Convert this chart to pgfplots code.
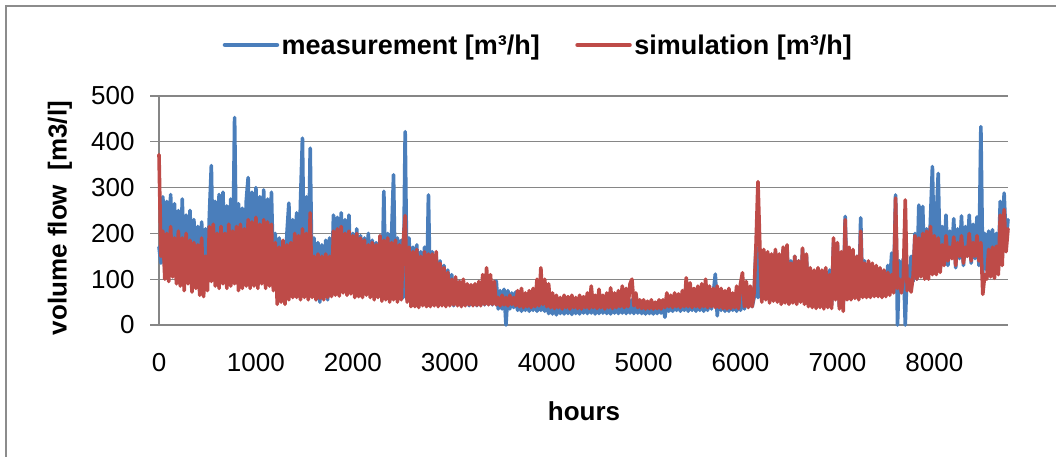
\documentclass[border=0pt]{standalone}
\usepackage{fontspec}
\setmainfont{Liberation Sans}
\usepackage{pgfplots}
\usepackage{pgfplotstable}
\pgfplotsset{compat=1.18}
\definecolor{mblue}{RGB}{74,126,187}
\definecolor{sred}{RGB}{190,75,72}
\definecolor{gridgray}{RGB}{134,134,134}
\definecolor{framegray}{RGB}{140,140,140}

\pgfplotstableread[row sep=\\]{
h m s\\
0 170 372\\ 20 135 150\\ 40 280 205\\ 60 120 100\\ 80 270 200\\ 100 130 95\\ 120 285 215\\ 140 115 105\\ 160 265 190\\ 180 125 90\\
200 250 205\\ 220 110 85\\ 240 275 190\\ 260 105 75\\ 280 240 200\\ 300 120 90\\ 320 250 185\\ 340 100 72\\ 360 230 180\\ 380 110 80\\
400 215 175\\ 420 95 65\\ 440 225 190\\ 460 100 62\\ 480 210 150\\ 500 110 75\\ 520 240 215\\ 540 348 95\\ 560 115 220\\ 580 270 85\\
600 120 200\\ 620 285 80\\ 640 125 215\\ 660 290 90\\ 680 110 200\\ 700 260 80\\ 720 120 220\\ 740 275 85\\ 760 115 205\\ 780 453 90\\
800 120 215\\ 820 265 75\\ 840 110 220\\ 860 255 80\\ 880 115 210\\ 900 270 85\\ 920 322 230\\ 940 110 80\\ 960 290 225\\ 980 115 85\\
1000 300 235\\ 1020 105 80\\ 1040 280 220\\ 1060 115 90\\ 1080 295 230\\ 1100 110 80\\ 1120 275 225\\ 1140 120 85\\ 1160 290 220\\ 1180 115 75\\
1200 200 180\\ 1220 75 45\\ 1240 190 170\\ 1260 70 50\\ 1280 175 185\\ 1300 80 45\\ 1320 200 175\\ 1340 266 55\\ 1360 85 180\\ 1380 230 60\\
1400 95 200\\ 1420 245 60\\ 1440 90 195\\ 1460 270 55\\ 1480 408 210\\ 1500 85 60\\ 1520 280 200\\ 1540 90 55\\ 1560 386 245\\ 1580 85 60\\
1600 190 150\\ 1620 55 55\\ 1640 180 155\\ 1660 50 58\\ 1680 175 150\\ 1700 60 55\\ 1720 185 155\\ 1740 55 60\\ 1760 190 150\\ 1780 70 62\\
1800 240 205\\ 1820 80 65\\ 1840 235 210\\ 1860 85 63\\ 1880 245 215\\ 1900 80 70\\ 1920 230 200\\ 1940 90 65\\ 1960 240 205\\ 1980 85 68\\
2000 200 195\\ 2020 70 60\\ 2040 210 200\\ 2060 75 62\\ 2080 195 190\\ 2100 70 60\\ 2120 190 185\\ 2140 80 65\\ 2160 200 175\\ 2180 70 60\\
2200 185 180\\ 2220 65 55\\ 2240 180 175\\ 2260 70 60\\ 2280 190 195\\ 2300 65 52\\ 2320 292 185\\ 2340 60 55\\ 2360 200 190\\ 2380 65 50\\
2400 195 180\\ 2420 328 55\\ 2440 60 185\\ 2460 190 50\\ 2480 65 175\\ 2500 185 55\\ 2520 60 180\\ 2540 422 239\\ 2560 55 50\\ 2580 190 170\\
2600 50 40\\ 2620 170 160\\ 2640 45 40\\ 2660 175 165\\ 2680 50 38\\ 2700 160 150\\ 2720 48 42\\ 2740 170 160\\ 2760 45 40\\ 2780 284 155\\
2800 50 40\\ 2820 160 155\\ 2840 45 42\\ 2860 150 160\\ 2880 50 40\\ 2900 140 135\\ 2920 45 42\\ 2940 130 125\\ 2960 48 40\\ 2980 120 115\\
3000 45 42\\ 3020 110 100\\ 3040 42 44\\ 3060 100 105\\ 3080 45 42\\ 3100 95 95\\ 3120 42 40\\ 3140 90 100\\ 3160 44 42\\ 3180 85 90\\
3200 42 44\\ 3220 85 88\\ 3240 44 42\\ 3260 80 90\\ 3280 42 43\\ 3300 85 95\\ 3320 45 42\\ 3340 90 110\\ 3360 44 45\\ 3380 95 125\\
3400 45 44\\ 3420 85 110\\ 3440 44 45\\ 3460 80 95\\ 3480 96 44\\ 3500 35 60\\ 3520 75 42\\ 3540 35 65\\ 3560 78 44\\ 3580 0 60\\
3600 75 42\\ 3620 35 65\\ 3640 70 45\\ 3660 38 60\\ 3680 72 42\\ 3700 32 75\\ 3720 60 40\\ 3740 30 80\\ 3760 55 38\\ 3780 32 70\\
3800 58 40\\ 3820 30 75\\ 3840 55 38\\ 3860 32 80\\ 3880 60 40\\ 3900 30 100\\ 3920 55 42\\ 3940 32 125\\ 3960 50 45\\ 3980 30 100\\
4000 55 40\\ 4020 25 90\\ 4040 52 38\\ 4060 24 70\\ 4080 55 36\\ 4100 22 65\\ 4120 50 38\\ 4140 25 60\\ 4160 55 35\\ 4180 24 65\\
4200 50 38\\ 4220 25 62\\ 4240 55 35\\ 4260 23 65\\ 4280 52 38\\ 4300 25 60\\ 4320 55 36\\ 4340 24 65\\ 4360 50 35\\ 4380 26 62\\
4400 55 38\\ 4420 25 70\\ 4440 50 36\\ 4460 26 85\\ 4480 55 38\\ 4500 24 65\\ 4520 52 36\\ 4540 25 78\\ 4560 55 38\\ 4580 26 65\\
4600 50 35\\ 4620 25 70\\ 4640 55 38\\ 4660 24 81\\ 4680 52 36\\ 4700 26 70\\ 4720 55 38\\ 4740 25 75\\ 4760 50 40\\ 4780 26 85\\
4800 55 38\\ 4820 25 80\\ 4840 52 40\\ 4860 26 90\\ 4880 55 100\\ 4900 25 42\\ 4920 50 70\\ 4940 26 38\\ 4960 45 55\\ 4980 25 36\\
5000 45 55\\ 5020 24 35\\ 5040 42 52\\ 5060 25 36\\ 5080 45 55\\ 5100 24 35\\ 5120 40 50\\ 5140 25 36\\ 5160 45 55\\ 5180 26 35\\
5200 45 55\\ 5220 17 38\\ 5240 50 70\\ 5260 30 40\\ 5280 55 65\\ 5300 30 38\\ 5320 50 70\\ 5340 32 40\\ 5360 55 68\\ 5380 30 38\\
5400 55 75\\ 5420 32 40\\ 5440 60 103\\ 5460 30 40\\ 5480 58 92\\ 5500 32 38\\ 5520 65 80\\ 5540 30 40\\ 5560 60 85\\ 5580 32 38\\
5600 65 90\\ 5620 30 40\\ 5640 62 100\\ 5660 32 38\\ 5680 65 85\\ 5700 35 40\\ 5720 70 80\\ 5740 111 38\\ 5760 20 85\\ 5780 68 38\\
5800 32 80\\ 5820 65 36\\ 5840 30 75\\ 5860 62 35\\ 5880 30 80\\ 5900 65 36\\ 5920 32 70\\ 5940 60 38\\ 5960 30 85\\ 5980 65 36\\
6000 32 90\\ 6020 70 114\\ 6040 35 40\\ 6060 68 95\\ 6080 40 38\\ 6100 65 85\\ 6120 40 40\\ 6140 60 70\\ 6160 170 175\\ 6180 60 313\\
6200 165 170\\ 6220 55 50\\ 6240 160 165\\ 6260 60 55\\ 6280 155 160\\ 6300 55 48\\ 6320 150 155\\ 6340 58 52\\ 6360 160 165\\ 6380 55 50\\
6400 150 155\\ 6420 50 45\\ 6440 165 170\\ 6460 55 48\\ 6480 170 175\\ 6500 50 45\\ 6520 140 135\\ 6540 55 48\\ 6560 150 150\\ 6580 50 45\\
6600 140 140\\ 6620 55 50\\ 6640 165 168\\ 6660 50 45\\ 6680 150 155\\ 6700 45 40\\ 6720 120 125\\ 6740 45 38\\ 6760 115 120\\ 6780 42 36\\
6800 120 125\\ 6820 45 38\\ 6840 110 120\\ 6860 42 35\\ 6880 115 125\\ 6900 45 38\\ 6920 120 110\\ 6940 45 36\\ 6960 180 190\\ 6980 60 55\\
7000 175 180\\ 7020 40 35\\ 7040 150 160\\ 7060 45 30\\ 7080 237 230\\ 7100 60 55\\ 7120 165 170\\ 7140 60 55\\ 7160 160 165\\ 7180 65 58\\
7200 150 150\\ 7220 60 55\\ 7240 234 205\\ 7260 65 60\\ 7280 140 135\\ 7300 65 60\\ 7320 130 140\\ 7340 62 60\\ 7360 120 135\\ 7380 65 62\\
7400 125 130\\ 7420 65 62\\ 7440 120 125\\ 7460 66 60\\ 7480 115 120\\ 7500 65 62\\ 7520 130 115\\ 7540 90 65\\ 7560 157 110\\ 7580 80 70\\
7600 284 277\\ 7620 0 80\\ 7640 140 100\\ 7660 85 70\\ 7680 145 105\\ 7700 0 273\\ 7720 130 75\\ 7740 90 100\\ 7760 150 72\\ 7780 95 105\\
7800 200 195\\ 7820 100 100\\ 7840 262 190\\ 7860 110 105\\ 7880 259 200\\ 7900 105 100\\ 7920 210 205\\ 7940 110 100\\ 7960 230 215\\ 7980 346 110\\
8000 120 195\\ 8020 230 110\\ 8040 331 190\\ 8060 125 115\\ 8080 215 175\\ 8100 140 130\\ 8120 240 195\\ 8140 130 140\\ 8160 205 170\\ 8180 150 145\\
8200 232 192\\ 8220 125 130\\ 8240 210 180\\ 8260 145 150\\ 8280 238 195\\ 8300 130 135\\ 8320 215 170\\ 8340 150 150\\ 8360 240 200\\ 8380 135 140\\
8400 220 180\\ 8420 145 150\\ 8440 236 195\\ 8460 130 140\\ 8480 433 180\\ 8500 114 67\\ 8520 200 110\\ 8540 120 100\\ 8560 205 165\\ 8580 118 105\\
8600 208 170\\ 8620 120 102\\ 8640 200 172\\ 8660 125 110\\ 8680 270 240\\ 8700 150 130\\ 8720 288 252\\ 8740 180 160\\ 8760 230 210\\
}\flowdata

\begin{document}
\begin{tikzpicture}
\path[use as bounding box] (0bp,0bp) rectangle (1056bp,457bp);
\draw[framegray, line width=2bp] (6bp,-20bp) -- (6bp,451bp) -- (1080bp,451bp);
\begin{axis}[
  at={(159bp,132bp)}, anchor=south west,
  scale only axis, width=849bp, height=229bp,
  xmin=0, xmax=8760, ymin=0, ymax=500,
  axis x line*=bottom, axis y line*=left,
  axis line style={gridgray, line width=1.3bp},
  xtick={0,1000,...,8000}, ytick={0,100,...,500},
  x tick style={draw=none},
  y tick style={gridgray, line width=1.3bp},
  tick align=outside, major tick length=9bp,
  ymajorgrids, grid style={gridgray, line width=1.3bp},
  scaled ticks=false,
  /pgf/number format/1000 sep={},
  /pgf/number format/assume math mode=true,
  tick label style={font=\fontsize{26bp}{30bp}\selectfont, text=black},
  xticklabel style={yshift=-16bp},
  yticklabel style={xshift=-12bp},
  clip=false,
  legend columns=2,
  legend style={at={(rel axis cs:0.447,1.2227)}, anchor=center, draw=none, fill=none,
    font=\fontsize{27bp}{31bp}\selectfont\bfseries, inner sep=0pt,
    nodes={inner sep=2.5bp},
    /tikz/every even column/.append style={column sep=33bp}},
  legend image code/.code={\draw[#1, line width=4.5bp, line cap=round] (0bp,0bp) -- (52bp,0bp);},
  every axis plot/.append style={line width=3.6bp, line join=round, line cap=round},
]
\addplot[mblue] table[x=h, y=m] {\flowdata};
\addlegendentry{measurement [m³/h]}
\addplot[sred] table[x=h, y=s] {\flowdata};
\addlegendentry{simulation [m³/h]}
\node[font=\fontsize{26bp}{30bp}\selectfont\bfseries, anchor=center] at (rel axis cs:0.5006,-0.3755) {hours};
\node[font=\fontsize{26bp}{30bp}\selectfont\bfseries, anchor=center, rotate=90] at (rel axis cs:-0.1166,0.467) {volume flow\ \ [m3/l]};
\end{axis}
\end{tikzpicture}
\end{document}
